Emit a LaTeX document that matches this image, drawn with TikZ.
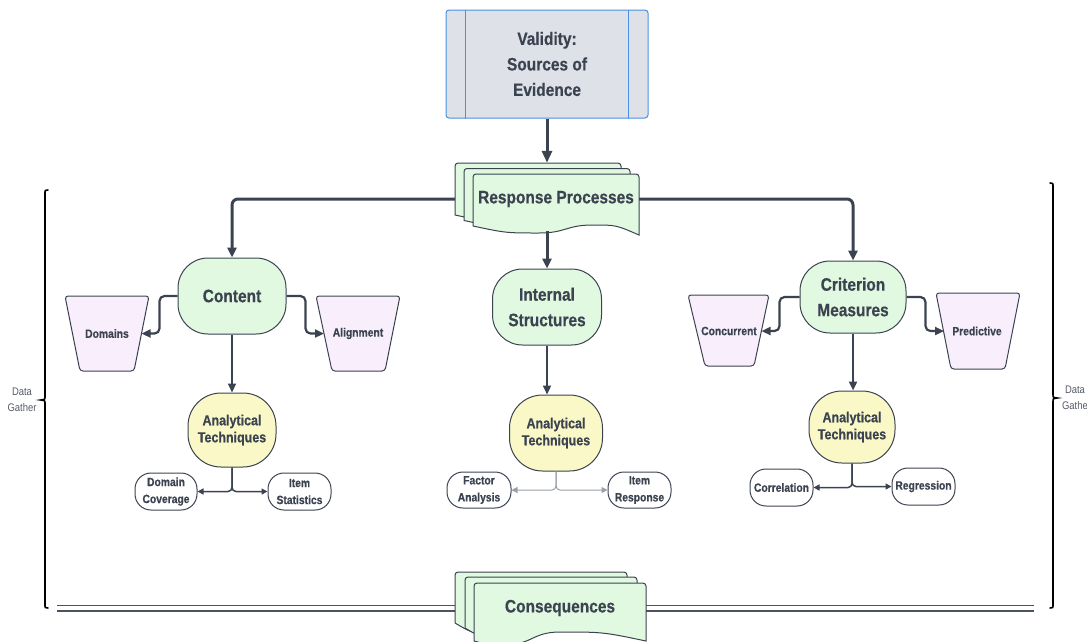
\documentclass[tikz,border=0pt]{standalone}
\usepackage{fontspec}
\setmainfont{Liberation Sans}[FakeStretch=0.86, BoldFeatures={FakeBold=0.5}]
\usetikzlibrary{arrows.meta}
\definecolor{ink}{HTML}{3C4350}
\definecolor{gfill}{HTML}{E1F9E1}
\definecolor{yfill}{HTML}{F9F8C6}
\definecolor{pfill}{HTML}{F9EFFC}
\definecolor{vfill}{HTML}{DEE2E8}
\definecolor{vblue}{HTML}{4A90E2}
\definecolor{thinline}{HTML}{9AA0A8}
\definecolor{dline}{HTML}{4B5260}
\definecolor{datagray}{HTML}{555B66}
\newcommand{\docshape}[9]{%
 \path[docsty] (#1,#2+#4) [rounded corners=3pt] -- (#1,#2) -- (#1+#3,#2) [sharp corners] -- (#1+#3,#2+#9)
 .. controls ({#1+(#7+#3)/2},#2+#8) .. (#1+#7,#2+#8)
 .. controls ({#1+(#7+#5)/2},#2+#8) and ({#1+(#7+#5)/2},#2+#6) .. (#1+#5,#2+#6)
 .. controls ({#1+#5/2},#2+#6) .. (#1,#2+#4) -- cycle;}
\tikzset{
 bigtxt/.style={font=\fontsize{18}{25.5}\selectfont\bfseries, text=ink, align=center},
 midtxt/.style={font=\fontsize{14.5}{17}\selectfont\bfseries, text=ink, align=center},
 smtxt/.style={font=\fontsize{12}{17}\selectfont\bfseries, text=ink, align=center},
 datatxt/.style={font=\fontsize{11}{16}\selectfont, text=datagray, align=center},
 docsty/.style={draw=ink, line width=1pt, fill=gfill},
 topic/.style={bigtxt, draw=ink, line width=1pt, fill=gfill, rounded corners=30pt, inner sep=0pt},
 tech/.style={midtxt, draw=ink, line width=1pt, fill=yfill, rounded corners=33pt, inner sep=0pt},
 pill/.style={smtxt, draw=ink, line width=1pt, fill=white, rounded corners=16pt, inner sep=0pt},
 trapz/.style={draw=ink, line width=1pt, fill=pfill, rounded corners=3pt},
 mainconn/.style={draw=ink, line width=3pt, rounded corners=6pt, -{Triangle[length=10pt,width=9pt]}},
 conn/.style={draw=ink, line width=2.2pt, rounded corners=5pt, -{Triangle[length=9pt,width=8pt]}},
 brconn/.style={draw=ink, line width=1.5pt, rounded corners=4pt, -{Triangle[length=6pt,width=6pt]}},
 thinconn/.style={draw=thinline, line width=1pt, rounded corners=4pt, -{Triangle[length=6pt,width=6pt]}},
 dbl/.style={draw=dline, line width=1.8pt, double=white, double distance=3.4pt},
 bracesty/.style={draw=black, line width=1.6pt, line cap=round}
}
\begin{document}
\begin{tikzpicture}[x=1pt,y=-1pt]
\useasboundingbox (0,0) rectangle (1087,641);

% braces and data labels
\draw[bracesty] (48,190) .. controls (45,190) .. (45,194) -- (45,396) .. controls (45,399.5) .. (41,400) .. controls (45,400.5) .. (45,404) -- (45,604) .. controls (45,608) .. (48,608);
\draw[bracesty] (1050,183) .. controls (1053,183) .. (1053,187) -- (1053,394) .. controls (1053,397.5) .. (1057,398) .. controls (1053,398.5) .. (1053,402) -- (1053,604) .. controls (1053,608) .. (1050,608);
\node[datatxt] (dataL) at (22,400) {Data\\Gather};
\node[datatxt] (dataR) at (1075,398) {Data\\Gathe};

% top box
\node[bigtxt, draw=vblue, fill=vfill, line width=1pt, rounded corners=3pt, minimum width=202pt, minimum height=108pt, inner sep=0pt] (valid) at (547,64) {Validity:\\Sources of\\Evidence};
\draw[vblue, line width=1pt] ([xshift=20pt]valid.north west) -- ([xshift=20pt]valid.south west);
\draw[vblue, line width=1pt] ([xshift=-20pt]valid.north east) -- ([xshift=-20pt]valid.south east);

% response processes stack
\docshape{455}{163}{166}{52}{66}{59}{120}{51}{61}
\docshape{464}{168.5}{166}{52}{66}{59}{120}{51}{61}
\docshape{473}{174}{166}{52}{66}{59}{120}{51}{61}
\node[minimum width=184pt, minimum height=72pt, inner sep=0pt] (rp) at (547,199) {};
\node[bigtxt] (rptext) at (556,199) {Response Processes};

% main topics
\node[topic, minimum width=108pt, minimum height=76pt] (content) at (232,296) {Content};
\node[topic, minimum width=109pt, minimum height=76pt] (intern) at (547,307) {Internal\\Structures};
\node[topic, minimum width=106pt, minimum height=72pt] (crit) at (853,297) {Criterion\\Measures};

% trapezoids
\draw[trapz] (65,296) -- (149,296) -- (134,371) -- (80,371) -- cycle;
\node[smtxt] (dom) at (107,333.5) {Domains};
\coordinate (domE) at (141.5,333.5);
\draw[trapz] (316,296) -- (400,296) -- (385,371) -- (332,371) -- cycle;
\node[smtxt] (ali) at (358,333.5) {Alignment};
\coordinate (aliW) at (324,333.5);
\draw[trapz] (688,295) -- (769,295) -- (754,366) -- (705,366) -- cycle;
\node[smtxt] (con) at (729,331) {Concurrent};
\coordinate (conE) at (761.5,331);
\draw[trapz] (936,293) -- (1020,293) -- (1005,369) -- (951,369) -- cycle;
\node[smtxt] (pre) at (977,331) {Predictive};
\coordinate (preW) at (944,331);

% analytical techniques
\node[tech, minimum width=88pt, minimum height=74pt] (at1) at (232,430) {Analytical\\Techniques};
\node[tech, minimum width=93pt, minimum height=76pt] (at2) at (556,433) {Analytical\\Techniques};
\node[tech, minimum width=86pt, minimum height=72pt] (at3) at (852,427) {Analytical\\Techniques};

% pills
\node[pill, minimum width=62pt, minimum height=37pt] (dc) at (166,491.5) {Domain\\Coverage};
\node[pill, minimum width=63pt, minimum height=37pt] (is) at (299.5,491.5) {Item\\Statistics};
\node[pill, minimum width=64pt, minimum height=36pt] (fa) at (479,490) {Factor\\Analysis};
\node[pill, minimum width=63pt, minimum height=36pt] (ir) at (639.5,490) {Item\\Response};
\node[pill, minimum width=63pt, minimum height=37pt] (cor) at (781.5,487.5) {Correlation};
\node[pill, minimum width=63pt, minimum height=37pt] (reg) at (923.5,486.5) {Regression};

% consequences
\node[minimum width=191pt, minimum height=60pt, inner sep=0pt] (cq) at (550.5,608) {};
\draw[dbl] (57,608) -- (cq.west);
\draw[dbl] (cq.east) -- (1034,608);
\docshape{455}{572}{172}{51}{34}{61}{90}{49}{58}
\docshape{465}{577}{172}{51}{34}{61}{90}{49}{58}
\docshape{474}{583}{172}{58}{30}{62}{86}{49}{58}
\node[bigtxt] (cqtext) at (560,608) {Consequences};

% connectors
\draw[draw=ink, line width=3pt, -{Triangle[length=12pt,width=10pt]}] (valid.south) -- (rp.north);
\draw[mainconn] (rp.west) -| (content.north);
\draw[mainconn] (rp.east) -| (crit.north);
\draw[mainconn, shorten <=-4pt] (rp.south) -- (intern.north);

\draw[conn] (content.west) -- ++(-18,0) |- (domE);
\draw[conn] (content.east) -- ++(19,0) |- (aliW);
\draw[conn] (crit.west) -- ++(-20,0) |- (conE);
\draw[conn] (crit.east) -- ++(19,0) |- (preW);

\draw[conn] (content.south) -- (at1.north);
\draw[conn] (intern.south) -- (intern.south |- at2.north);
\draw[conn] (crit.south) -- (crit.south |- at3.north);

\draw[brconn] (at1.south) |- (dc.east);
\draw[brconn] (at1.south) |- (is.west);
\draw[thinconn] (at2.south) |- (fa.east);
\draw[thinconn] (at2.south) |- (ir.west);
\draw[brconn] (at3.south) |- (cor.east);
\draw[brconn] (at3.south) |- (reg.west);
\end{tikzpicture}
\end{document}
